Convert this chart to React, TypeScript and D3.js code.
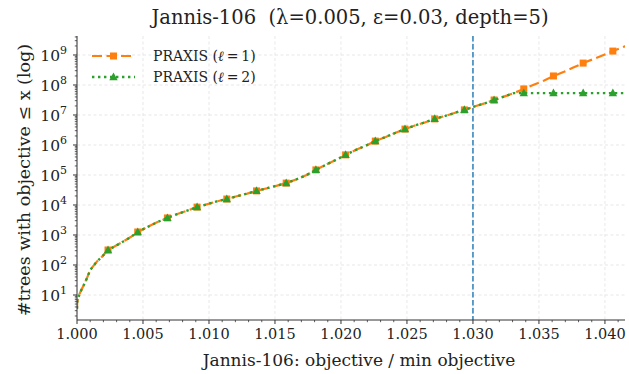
import React from "react";
import * as d3 from "d3";

// objective / min objective (x) and cumulative tree counts
const objective = [
  1.0, 1.00002, 1.0002, 1.0004, 1.0007, 1.001, 1.0015, 1.0019, 1.00235, 1.0029, 1.0035, 1.0041,
  1.0046, 1.0054, 1.0061, 1.00685, 1.0076, 1.0084, 1.0091, 1.0099, 1.0106, 1.01135, 1.0121,
  1.0129, 1.0136, 1.0144, 1.0151, 1.01585, 1.0166, 1.0174, 1.0181, 1.0189, 1.0196, 1.02035,
  1.0211, 1.0219, 1.0226, 1.0234, 1.0241, 1.02485, 1.0256, 1.0264, 1.0271, 1.0279, 1.0286,
  1.02935, 1.0301, 1.0309, 1.0316, 1.0324, 1.0331, 1.03385, 1.0346, 1.0354, 1.0361, 1.0369,
  1.0376, 1.03835, 1.0391, 1.0399, 1.0406, 1.0414, 1.0421,
];

const praxis1 = [
  3.5, 6, 11, 17, 32, 68, 129, 190, 316, 427, 603, 871,
  1260, 1900, 2700, 3700, 5000, 6600, 8500, 10700, 13200, 15800, 19500,
  24000, 29500, 36300, 43600, 53700, 70800, 100000, 148000, 224000, 316000, 468000,
  676000, 955000, 1.35e6, 1.86e6, 2.51e6, 3.39e6, 4.47e6, 5.75e6, 7.41e6, 9.33e6, 1.17e7,
  1.48e7, 1.91e7, 2.45e7, 3.16e7, 4.17e7, 5.37e7, 7.41e7, 1.02e8, 1.41e8, 2.0e8, 2.75e8,
  3.8e8, 5.37e8, 7.24e8, 1.0e9, 1.35e9, 1.86e9, 2.51e9,
];

const praxis2 = [
  3.5, 6, 11, 17, 32, 68, 129, 190, 316, 427, 603, 871,
  1260, 1900, 2700, 3700, 5000, 6600, 8500, 10700, 13200, 15800, 19500,
  24000, 29500, 36300, 43600, 53700, 70800, 100000, 148000, 224000, 316000, 468000,
  676000, 955000, 1.35e6, 1.86e6, 2.51e6, 3.39e6, 4.47e6, 5.75e6, 7.41e6, 9.33e6, 1.17e7,
  1.48e7, 1.91e7, 2.45e7, 3.16e7, 4.17e7, 5.37e7, 5.37e7, 5.37e7, 5.37e7, 5.37e7, 5.37e7,
  5.37e7, 5.37e7, 5.37e7, 5.37e7, 5.37e7, 5.37e7, 5.37e7,
];

// points that carry a marker
const markerAt = [
  1.00235, 1.0046, 1.00685, 1.0091, 1.01135, 1.0136, 1.01585, 1.0181, 1.02035, 1.0226,
  1.02485, 1.0271, 1.02935, 1.0316, 1.03385, 1.0361, 1.03835, 1.0406,
];

const xTicks = [1.0, 1.005, 1.01, 1.015, 1.02, 1.025, 1.03, 1.035, 1.04];
const yExponents = [1, 2, 3, 4, 5, 6, 7, 8, 9];
const threshold = 1.03;

const W = 629;
const H = 374;
const m = { left: 77, right: 4, top: 36, bottom: 54 };
const FONT = "'DejaVu Serif', serif";
const ORANGE = "#ff7f0e";
const GREEN = "#2ca02c";

export default function App() {
  const x = d3.scaleLinear().domain([1.0, 1.04152]).range([m.left, W - m.right]);
  const y = d3
    .scaleLog()
    .domain([Math.pow(10, 0.1667), Math.pow(10, 9.633)])
    .range([H - m.bottom, m.top]);

  const y0 = H - m.bottom;
  const x0 = m.left;

  const line = (vals: number[]) =>
    d3
      .line<number>()
      .x((_, i) => x(objective[i]))
      .y((d) => y(d))(vals) || "";

  const minorX: number[] = [];
  for (let i = 0; i <= 41; i++) {
    const v = 1 + i * 0.001;
    if (i % 5 !== 0) minorX.push(v);
  }
  const minorY: number[] = [];
  for (let e = 0; e <= 9; e++) {
    for (let k = 2; k <= 9; k++) {
      const v = k * Math.pow(10, e);
      if (v >= y.domain()[0] && v <= y.domain()[1]) minorY.push(v);
    }
  }

  const mIdx = objective
    .map((v, i) => (markerAt.some((mv) => Math.abs(mv - v) < 1e-7) ? i : -1))
    .filter((i) => i >= 0);

  const sq = 7;
  const tri = (cx: number, cy: number, s: number) =>
    `M${cx},${cy - s * 0.65}L${cx + s * 0.6},${cy + s * 0.45}L${cx - s * 0.6},${cy + s * 0.45}Z`;

  return (
    <svg width={W} height={H} style={{ position: "absolute", left: 0, top: 0 }} fontFamily={FONT}>
      <rect width={W} height={H} fill="#fff" />
      <defs>
        <clipPath id="plot">
          <rect x={m.left} y={m.top} width={W - m.left - m.right} height={y0 - m.top} />
        </clipPath>
      </defs>

      {/* grid */}
      <g stroke="#e2e2e2" strokeWidth={0.8} strokeDasharray="3,2.5">
        {xTicks.map((t) => (
          <line key={"gx" + t} x1={x(t)} x2={x(t)} y1={m.top} y2={y0} />
        ))}
        {yExponents.map((e) => (
          <line key={"gy" + e} x1={x0} x2={W - m.right} y1={y(Math.pow(10, e))} y2={y(Math.pow(10, e))} />
        ))}
      </g>

      {/* threshold */}
      <line
        x1={x(threshold)}
        x2={x(threshold)}
        y1={m.top}
        y2={y0}
        stroke="#1f77b4"
        strokeWidth={1.4}
        strokeDasharray="5.5,2.5"
      />

      <g clipPath="url(#plot)">
        <path d={line(praxis1)} fill="none" stroke={ORANGE} strokeWidth={2.2} strokeDasharray="10,4.5" />
        {mIdx.map((i) => (
          <rect
            key={"s" + i}
            x={x(objective[i]) - sq / 2}
            y={y(praxis1[i]) - sq / 2}
            width={sq}
            height={sq}
            fill={ORANGE}
          />
        ))}
        <path d={line(praxis2)} fill="none" stroke={GREEN} strokeWidth={2.4} strokeDasharray="2.4,3.6" />
        {mIdx.map((i) => (
          <path key={"t" + i} d={tri(x(objective[i]), y(praxis2[i]), 7)} fill={GREEN} />
        ))}
      </g>

      {/* axes */}
      <g stroke="#333" strokeWidth={1}>
        <line x1={x0} x2={W - m.right} y1={y0} y2={y0} />
        <line x1={x0} x2={x0} y1={m.top} y2={y0} />
        {xTicks.map((t) => (
          <line key={"tx" + t} x1={x(t)} x2={x(t)} y1={y0} y2={y0 + 4} />
        ))}
        {minorX.map((t) => (
          <line key={"mx" + t} x1={x(t)} x2={x(t)} y1={y0} y2={y0 + 2.2} strokeWidth={0.8} />
        ))}
        {yExponents.map((e) => (
          <line key={"ty" + e} x1={x0 - 4} x2={x0} y1={y(Math.pow(10, e))} y2={y(Math.pow(10, e))} />
        ))}
        {minorY.map((v) => (
          <line key={"my" + v} x1={x0 - 2.2} x2={x0} y1={y(v)} y2={y(v)} strokeWidth={0.8} />
        ))}
      </g>

      <g fontSize={14.5} fill="#222">
        {xTicks.map((t) => (
          <text key={"lx" + t} x={x(t)} y={y0 + 19} textAnchor="middle">
            {d3.format(".3f")(t)}
          </text>
        ))}
      </g>
      <g fontSize={15.5} fill="#222">
        {yExponents.map((e) => (
          <text key={"ly" + e} x={x0 - 10} y={y(Math.pow(10, e)) + 6} textAnchor="end">
            10
            <tspan dy={-7} fontSize={11}>
              {e}
            </tspan>
          </text>
        ))}
      </g>

      <text x={(x0 + W - m.right) / 2 + 8} y={H - 8} textAnchor="middle" fontSize={17} fill="#222">
        Jannis-106: objective / min objective
      </text>
      <text
        transform={`translate(30, ${(m.top + y0) / 2 + 2}) rotate(-90)`}
        textAnchor="middle"
        fontSize={17.5}
        fill="#222"
      >
        #trees with objective ≤ x (log)
      </text>
      <text x={350} y={24} textAnchor="middle" fontSize={19.5} fill="#222" style={{ whiteSpace: "pre" }}>
        {"Jannis-106  (λ=0.005, ε=0.03, depth=5)"}
      </text>

      {/* legend */}
      <g fontSize={14} fill="#222">
        <line x1={92} x2={135} y1={56} y2={56} stroke={ORANGE} strokeWidth={2.2} strokeDasharray="10,4.5" />
        <rect x={113.5 - sq / 2} y={56 - sq / 2} width={sq} height={sq} fill={ORANGE} />
        <text x={153} y={61}>
          PRAXIS (<tspan fontStyle="italic">ℓ</tspan>{"\u2009=\u20091)"}
        </text>
        <line x1={92} x2={135} y1={77} y2={77} stroke={GREEN} strokeWidth={2.4} strokeDasharray="2.4,3.6" />
        <path d={tri(113.5, 77, 7)} fill={GREEN} />
        <text x={153} y={82}>
          PRAXIS (<tspan fontStyle="italic">ℓ</tspan>{"\u2009=\u20092)"}
        </text>
      </g>
    </svg>
  );
}
